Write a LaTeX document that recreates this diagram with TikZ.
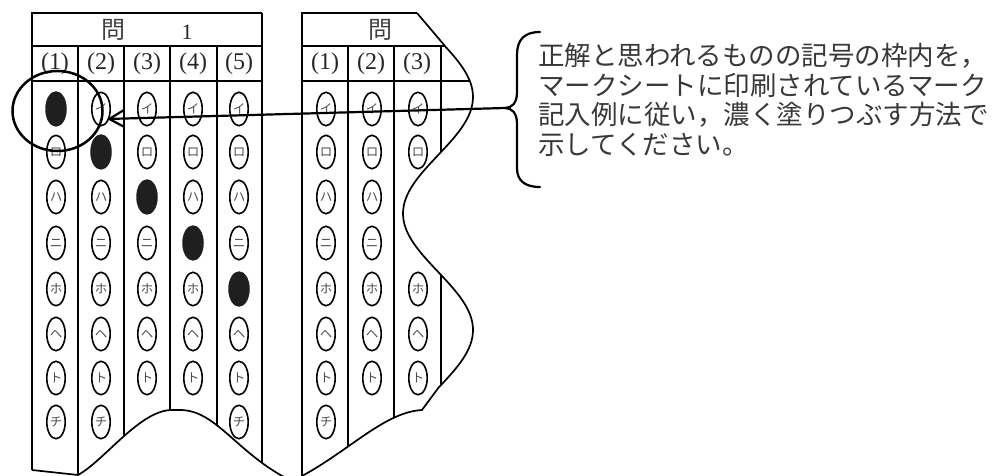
\documentclass[tikz,border=0pt]{standalone}
\usepackage{fontspec}
\newfontfamily\jp{Noto Sans CJK JP}
\newfontfamily\lat{Liberation Serif}
\usetikzlibrary{arrows.meta,shapes.geometric}
\begin{document}
\begin{tikzpicture}[x=1pt,y=-1pt,
  thickrule/.style={line width=2.6pt},
  midrule/.style={line width=2.0pt},
  colrule/.style={line width=1.7pt},
  waveline/.style={line width=1.7pt, line join=round},
  bub/.style={draw, ellipse, line width=1.6pt, minimum width=18.4pt, minimum height=33.4pt, inner sep=0pt, font=\jp\fontsize{12.5}{12.5}\selectfont, text=black!70},
  bubfill/.style={ellipse, fill=black!88, minimum width=21.5pt, minimum height=35.5pt, inner sep=0pt},
  subhead/.style={anchor=base, inner sep=0pt, font=\lat\fontsize{24}{24}\selectfont, text=black!85},
  kanji/.style={inner sep=0pt, font=\jp\fontsize{24}{24}\selectfont, text=black!75},
  note/.style={anchor=base west, inner sep=0pt, font=\jp\fontsize{26.5}{26.5}\selectfont, text=black!78}
]
\useasboundingbox (0,0) rectangle (994,476);

% ---------- left panel ----------
\begin{scope}
\clip (20,0) -- (20,470) -- (32,470) -- (78,475) .. controls (105,460) and (140,410) .. (172,410) -- (180,410) .. controls (215,410) and (235,450) .. (284,477) -- (300,477) -- (300,0) -- cycle;
\foreach \x in {78,124,170,217} \draw[colrule] (\x,46) -- (\x,480);
\draw[thickrule] (262,13) -- (262,480);
\end{scope}
\draw[thickrule, line join=miter] (32,470) -- (32,13) -- (262,13);
\draw[midrule] (32,46) -- (262,46);
\draw[midrule] (32,81) -- (262,81);

\node[kanji] (h1) at (113,30) {問};
\node[anchor=base, inner sep=0pt, font=\lat\fontsize{22}{22}\selectfont, text=black!85] (h1n) at (187,39.5) {1};
\foreach \i/\x in {1/55,2/101,3/147,4/193,5/239}
  \node[subhead] (sl\i) at (\x,69.5) {(\i)};

\foreach \c/\x in {1/56,2/101,3/147,4/193,5/239}{
  \foreach \r/\y/\k in {1/109/イ,2/152/ロ,3/197/ハ,4/243/ニ,5/289/ホ,6/334/ヘ,7/378/ト,8/422/チ}{
    \pgfmathtruncatemacro\skipit{(\r==8)&&(\c>2)&&(\c<5)}
    \ifnum\skipit=1\relax\else
      \ifnum\c=\r\relax
        \node[bubfill] (L\c-\r) at (\x,\y) {};
      \else
        \node[bub] (L\c-\r) at (\x,\y) {\k};
      \fi
    \fi
  }
}

\draw[waveline] (32,470) -- (78,475) .. controls (105,460) and (140,410) .. (172,410) -- (180,410) .. controls (215,410) and (235,450) .. (284,477);

% ---------- right panel ----------
\begin{scope}
\clip (302,13) -- (417,13) -- (445,46) -- plot[variable=\t, domain=46:388, samples=80, smooth] ({438+35*cos((\t-97)*1.54506)},\t) -- (422,410) .. controls (385,412) and (350,450) .. (302,476) -- cycle;
\draw[midrule] (302,46) -- (500,46);
\draw[midrule] (302,81) -- (500,81);
\foreach \x in {348,394,441} \draw[colrule] (\x,46) -- (\x,480);
\end{scope}
\draw[thickrule, line join=miter] (302,476) -- (302,13) -- (417,13);
\draw[waveline] (417,13) -- (445,46) -- plot[variable=\t, domain=46:388, samples=80, smooth] ({438+35*cos((\t-97)*1.54506)},\t) -- (422,410) .. controls (385,412) and (350,450) .. (302,476);

\node[kanji] (h2) at (380,30) {問};
\foreach \i/\x in {1/325,2/371,3/417}
  \node[subhead] (sr\i) at (\x,69.5) {(\i)};

\foreach \c/\x in {1/326,2/372,3/418}{
  \foreach \r/\y/\k in {1/109/イ,2/152/ロ,3/197/ハ,4/243/ニ,5/289/ホ,6/334/ヘ,7/378/ト,8/422/チ}{
    \pgfmathtruncatemacro\skipit{((\r==8)&&(\c>1)) || ((\c==3)&&((\r==3)||(\r==4)))}
    \ifnum\skipit=0\relax
      \node[bub] (R\c-\r) at (\x,\y) {\k};
    \fi
  }
}

% ---------- highlight circle, brace, arrow, note ----------
\node[draw, ellipse, line width=2.5pt, minimum width=90pt, minimum height=80pt, inner sep=0pt] (focus) at (57.5,111) {};

\coordinate (bt) at (505,108);
\coordinate (tg) at (107,119);
\draw[line width=2.2pt, line cap=round] (540,32) .. controls (524,32) and (517,40) .. (517,55) -- (517,92) .. controls (517,103) and (512,108) .. (bt) .. controls (512,108) and (517,113) .. (517,124) -- (517,168) .. controls (517,180) and (524,187) .. (540,187);
\draw[line width=2.2pt, -{Straight Barb[length=15pt,width=17pt]}] (bt) -- (tg);

\node[note] (t1) at (538,66) {正解と思われるものの記号の枠内を，};
\node[note] (t2) at (538,95.5) {マークシートに印刷されているマーク};
\node[note] (t3) at (538,125) {記入例に従い，濃く塗りつぶす方法で};
\node[note] (t4) at (538,154.5) {示してください。};
\end{tikzpicture}
\end{document}
